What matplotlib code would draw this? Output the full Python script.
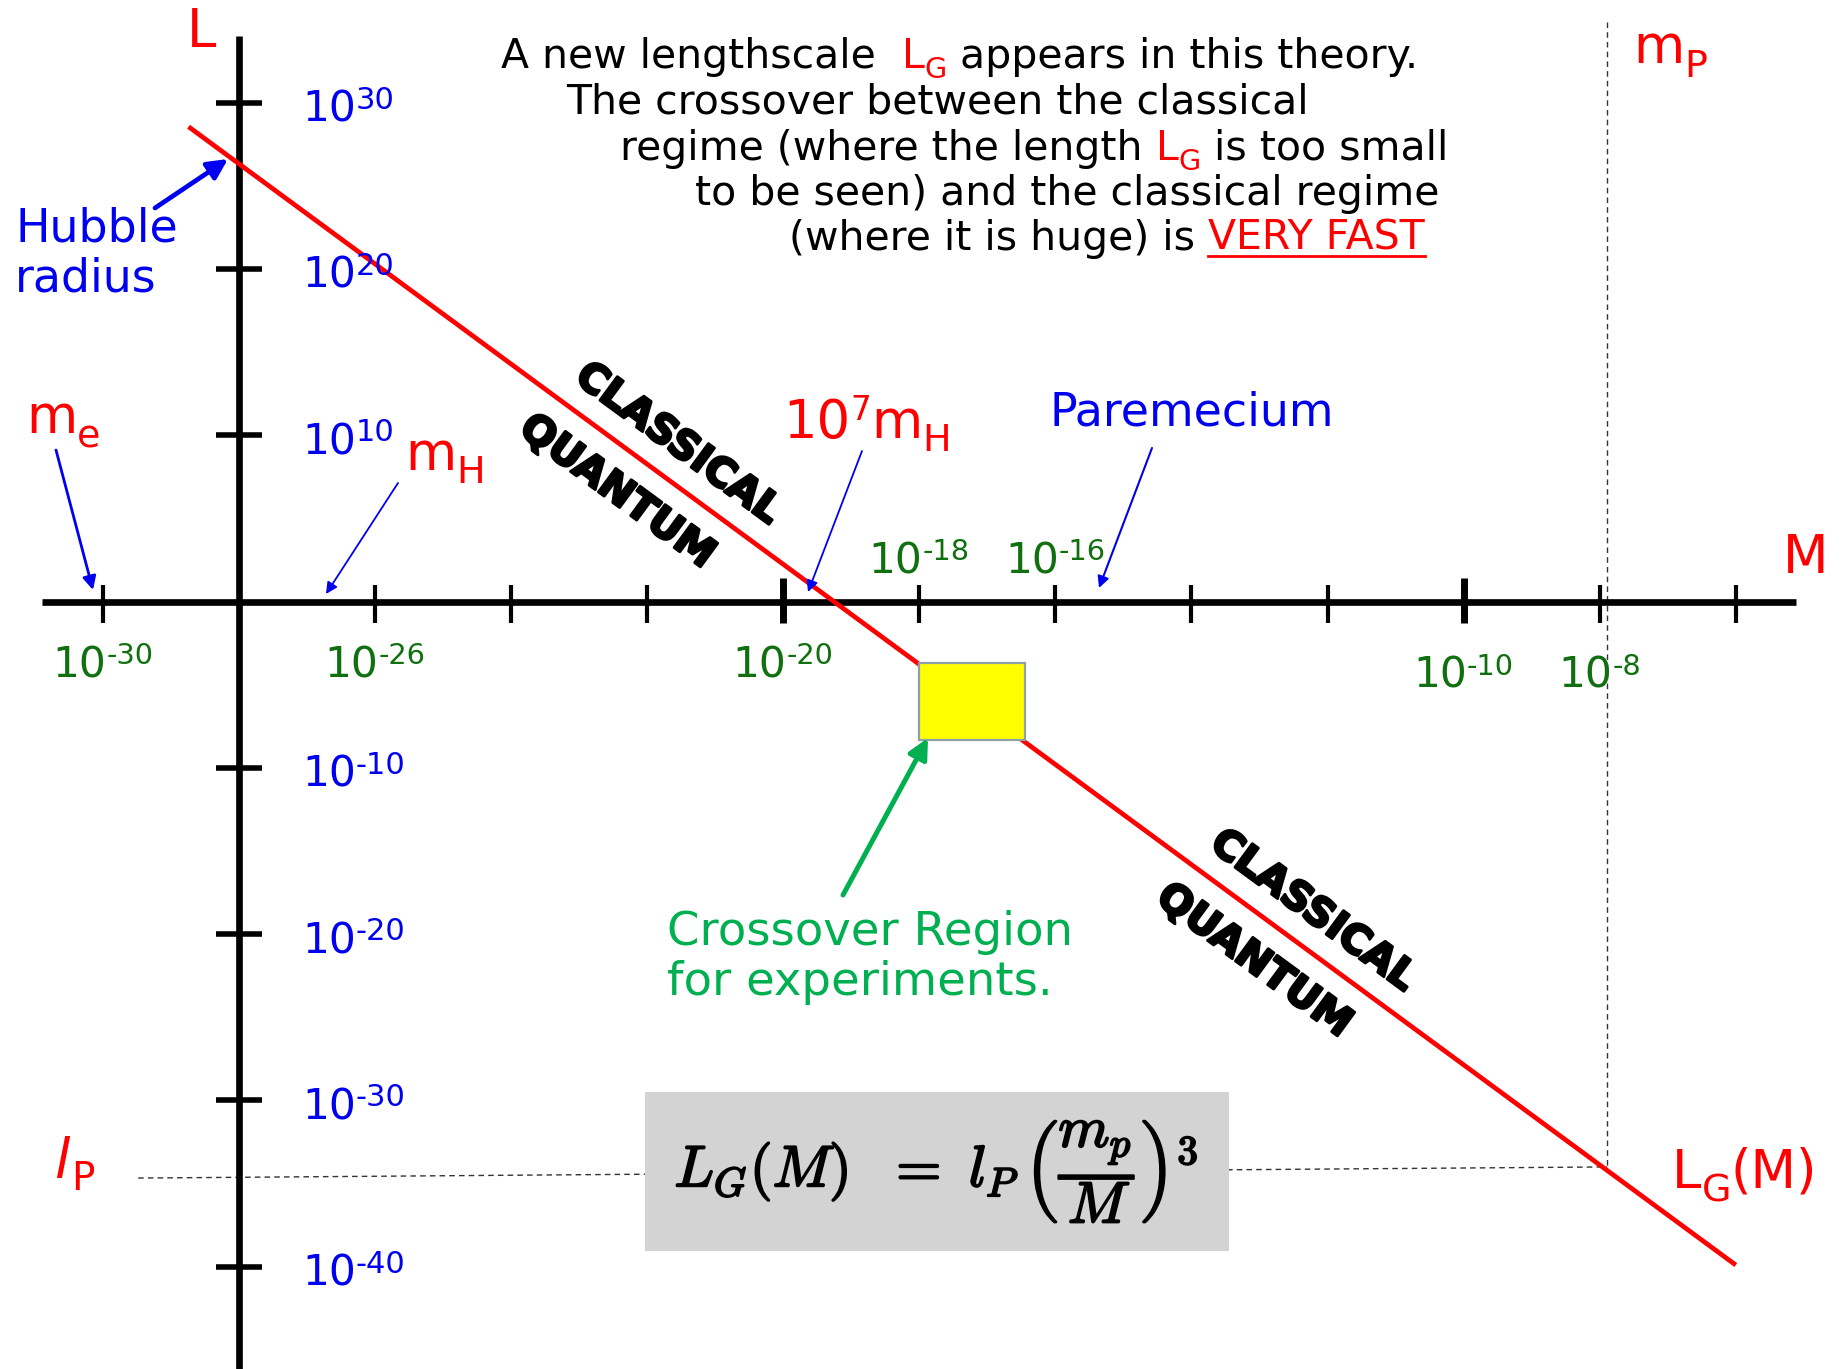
import matplotlib
matplotlib.use('Agg')
import matplotlib.pyplot as plt
from matplotlib.patches import Rectangle
from matplotlib.font_manager import FontProperties
from matplotlib.transforms import IdentityTransform
import matplotlib.patheffects as pe

# ---------------- data (log10 units) ----------------
mass_ticks = [-30, -26, -24, -22, -20, -18, -16, -14, -12, -10, -8, -6]
major_mass_ticks = [-20, -10]
mass_axis_at = -28                     # log10 M where the L axis stands
mass_label_exp = [-30, -26, -20, -18, -16, -10, -8]
length_ticks = [30, 20, 10, -10, -20, -30, -40]
lg_logM = [-28.74, -6.0]               # L_G(M) line end points
lg_logL = [28.55, -39.9]
crossover_logM = [-18.0, -16.45]       # yellow crossover region
crossover_logL = [-8.31, -3.70]
planck_mass_logM = -7.89
planck_len_logM = [-29.48, -7.89]
planck_len_logL = [-34.67, -34.0]

# ---------------- layout ----------------
W, H, DPI = 1845, 1369, 100
X0PX, XPD = 102.8, 68.04      # pixel of log M = -30, pixels per decade
Y0PX, YPD = 601.5, 16.63      # pixel of log L = 0, pixels per decade

RED = '#ff0000'
BLUE = '#0000f0'
DGREEN = '#107010'
LGREEN = '#00b050'
FAM = 'DejaVu Sans'


def px2x(p):
    return -30 + (p - X0PX) / XPD


def py2y(p):
    return (Y0PX - p) / YPD


def x2px(x):
    return X0PX + (x + 30) * XPD


def y2py(y):
    return Y0PX - y * YPD


fig = plt.figure(figsize=(W / DPI, H / DPI), dpi=DPI)
fig.patch.set_facecolor('white')
ax = fig.add_axes([0, 0, 1, 1])
ax.set_xlim(px2x(0), px2x(W))
ax.set_ylim(py2y(H), py2y(0))
ax.axis('off')
R = fig.canvas.get_renderer()


def fp(size, weight='normal', style='normal'):
    return FontProperties(family=FAM, size=size, weight=weight, style=style)


def tw(s, size, weight='normal', style='normal'):
    if not s:
        return 0.0
    w, h, d = R.get_text_width_height_descent(s, fp(size, weight, style), ismath=False)
    return w


def spw(size):
    return tw('n n', size) - tw('nn', size)


def measure(parts, size):
    out = []
    for p in parts:
        text, color, sc, dy = p[:4]
        style = p[4] if len(p) > 4 else 'normal'
        s = size * sc
        core = text.strip(' ')
        lead = len(text) - len(text.lstrip(' '))
        trail = len(text) - len(text.rstrip(' '))
        out.append((core, color, s, dy, style, lead * spw(s), tw(core, s, style=style), trail * spw(s)))
    return out


def run_width(parts, size):
    return sum(a + b + c for *_, a, b, c in measure(parts, size))


def draw_runs(x, y, parts, size, ha='left', **kw):
    m = measure(parts, size)
    total = sum(a + b + c for *_, a, b, c in m)
    if ha == 'center':
        x -= total / 2
    elif ha == 'right':
        x -= total
    spans = []
    for core, color, s, dy, style, a, b, c in m:
        x += a
        fig.text(x, H - y + dy, core, transform=IdentityTransform(), fontsize=s,
                 color=color, family=FAM, style=style, ha='left', va='baseline', **kw)
        spans.append((x, x + b))
        x += b + c
    return spans


# ---------------- guides ----------------
ax.plot(planck_len_logM, planck_len_logL, color='#333333', lw=1.0, dashes=(4, 3), zorder=1)
ax.plot([planck_mass_logM, planck_mass_logM], [py2y(22), planck_len_logL[1]],
        color='#333333', lw=1.0, dashes=(4, 3), zorder=1)

# ---------------- axes ----------------
ax.plot([mass_axis_at, mass_axis_at], [py2y(36), py2y(H + 5)], color='black', lw=4.8,
        solid_capstyle='butt', zorder=3)
ax.plot([px2x(42), px2x(1796)], [0, 0], color='black', lw=4.8, solid_capstyle='butt', zorder=3)
for m in mass_ticks:
    major = m in major_mass_ticks
    ax.plot([m, m], [py2y(623), py2y(578 if major else 585)], color='black',
            lw=5.0 if major else 3.0, solid_capstyle='butt', zorder=3)
for l in length_ticks:
    ax.plot([px2x(216), px2x(262)], [l, l], color='black', lw=4.0, solid_capstyle='butt', zorder=3)

# tick labels
for l in length_ticks:
    draw_runs(302, y2py(l) + 19, [('10', BLUE, 1, 0), (str(l), BLUE, 0.72, 13)], 30.5)
for m in mass_label_exp:
    if m in (-18, -16):
        base = 573
    elif m in (-10, -8):
        base = 688
    else:
        base = 677
    draw_runs(x2px(m), base, [('10', DGREEN, 1, 0), (str(m), DGREEN, 0.68, 13)], 30.5, ha='center')

# ---------------- L_G(M) line & crossover region ----------------
ax.plot(lg_logM, lg_logL, color=RED, lw=3.4, solid_capstyle='butt', zorder=4)
ax.add_patch(Rectangle((crossover_logM[0], crossover_logL[0]),
                       crossover_logM[1] - crossover_logM[0],
                       crossover_logL[1] - crossover_logL[0],
                       facecolor='#ffff00', edgecolor='#8fa1a8', lw=1.6, zorder=5))

# formula box
gx0, gy0, gx1, gy1 = 645, 1092, 1229, 1251
ax.add_patch(Rectangle((px2x(gx0), py2y(gy1)), px2x(gx1) - px2x(gx0), py2y(gy0) - py2y(gy1),
                       facecolor='#d3d3d3', edgecolor='none', zorder=2))
fig.text(936, H - 1172, r'$L_G(M)\ \ =\ l_P\,\left(\dfrac{m_p}{M}\right)^3$', transform=IdentityTransform(),
         fontsize=42, math_fontfamily='cm', ha='center', va='center', color='black',
         path_effects=[pe.withStroke(linewidth=1.4, foreground='black')])

# ---------------- region labels ----------------
ang = -36.3
for (cx, cy, s) in [(678, 444, 'CLASSICAL'), (617, 492, 'QUANTUM'),
                    (1313, 911, 'CLASSICAL'), (1254, 961, 'QUANTUM')]:
    fig.text(cx, H - cy, s, transform=IdentityTransform(), fontsize=29, fontweight='bold',
             family=FAM, rotation=ang, rotation_mode='anchor', ha='center', va='center',
             color='black', path_effects=[pe.withStroke(linewidth=2.0, foreground='black')])

# ---------------- red labels ----------------
RS = 38
draw_runs(187, 47, [('L', RED, 1, 0)], RS)
draw_runs(1783, 573, [('M', RED, 1, 0)], RS)
draw_runs(1633, 63, [('m', RED, 1, 0), ('P', RED, 0.72, -14)], RS)
draw_runs(26, 433, [('m', RED, 1, 0), ('e', RED, 0.72, -14)], RS)
draw_runs(405, 470, [('m', RED, 1, 0), ('H', RED, 0.72, -13)], RS)
draw_runs(783, 438, [('10', RED, 1, 0), ('7', RED, 0.62, 18), ('m', RED, 1, 0), ('H', RED, 0.72, -13)], RS)
draw_runs(54, 1178, [('l', RED, 1, 0, 'italic')], 40)
draw_runs(71, 1190, [('P', RED, 1, 0)], 28)
draw_runs(1672, 1188, [('L', RED, 1, 0), ('G', RED, 0.72, -14), ('(M)', RED, 1, 0)], RS)

# ---------------- blue / green annotations ----------------
BS = 33
draw_runs(15, 242, [('Hubble', BLUE, 1, 0)], BS)
draw_runs(15, 292, [('radius', BLUE, 1, 0)], BS)
draw_runs(1050, 425, [('Paremecium', BLUE, 1, 0)], BS)
draw_runs(667, 945, [('Crossover Region', LGREEN, 1, 0)], 33.5)
draw_runs(667, 995, [('for experiments.', LGREEN, 1, 0)], 33.5)


def arrow(p0, p1, color, lw, ms):
    ax.annotate('', xy=(px2x(p1[0]), py2y(p1[1])), xytext=(px2x(p0[0]), py2y(p0[1])),
                arrowprops=dict(arrowstyle='-|>', color=color, lw=lw, mutation_scale=ms,
                                shrinkA=0, shrinkB=0), zorder=6)


arrow((155, 208), (228, 159), BLUE, 3.4, 30)
arrow((56, 450), (93, 590), BLUE, 2.0, 20)
arrow((398, 483), (326, 594), BLUE, 1.3, 17)
arrow((862, 451), (808, 592), BLUE, 1.3, 17)
arrow((1152, 448), (1099, 588), BLUE, 1.5, 17)
arrow((843, 895), (928, 738), LGREEN, 3.6, 30)

# ---------------- paragraph ----------------
para = [
    (499, 68, 1420, [('A new lengthscale  ', 'black', 1, 0), ('L', RED, 1, 0), ('G', RED, 0.7, -10),
                     (' appears in this theory.', 'black', 1, 0)]),
    (563, 113, 1311, [('The crossover between the classical', 'black', 1, 0)]),
    (624, 160, 1444, [('regime (where the length ', 'black', 1, 0), ('L', RED, 1, 0), ('G', RED, 0.7, -10),
                      (' is too small', 'black', 1, 0)]),
    (698, 205, 1437, [('to be seen) and the classical regime', 'black', 1, 0)]),
    (785, 250, 1429, [('(where it is huge) is ', 'black', 1, 0), ('VERY FAST', RED, 1, 0)]),
]
base = 26.0
meas = sum(run_width(p, base) for _, _, _, p in para)
target = sum(x1 - x0 for x0, _, x1, _ in para)
psize = base * target / meas
for x0, yb, x1, parts in para:
    w = run_width(parts, psize)
    spans = draw_runs((x0 + x1) / 2 - w / 2, yb, parts, psize)
    if parts[-1][0] == 'VERY FAST':
        a, b = spans[-1]
        fig.add_artist(plt.Line2D([a, b], [H - yb - 6, H - yb - 6], transform=IdentityTransform(),
                                  color=RED, lw=2.0))

fig.savefig('out.png', dpi=DPI)
